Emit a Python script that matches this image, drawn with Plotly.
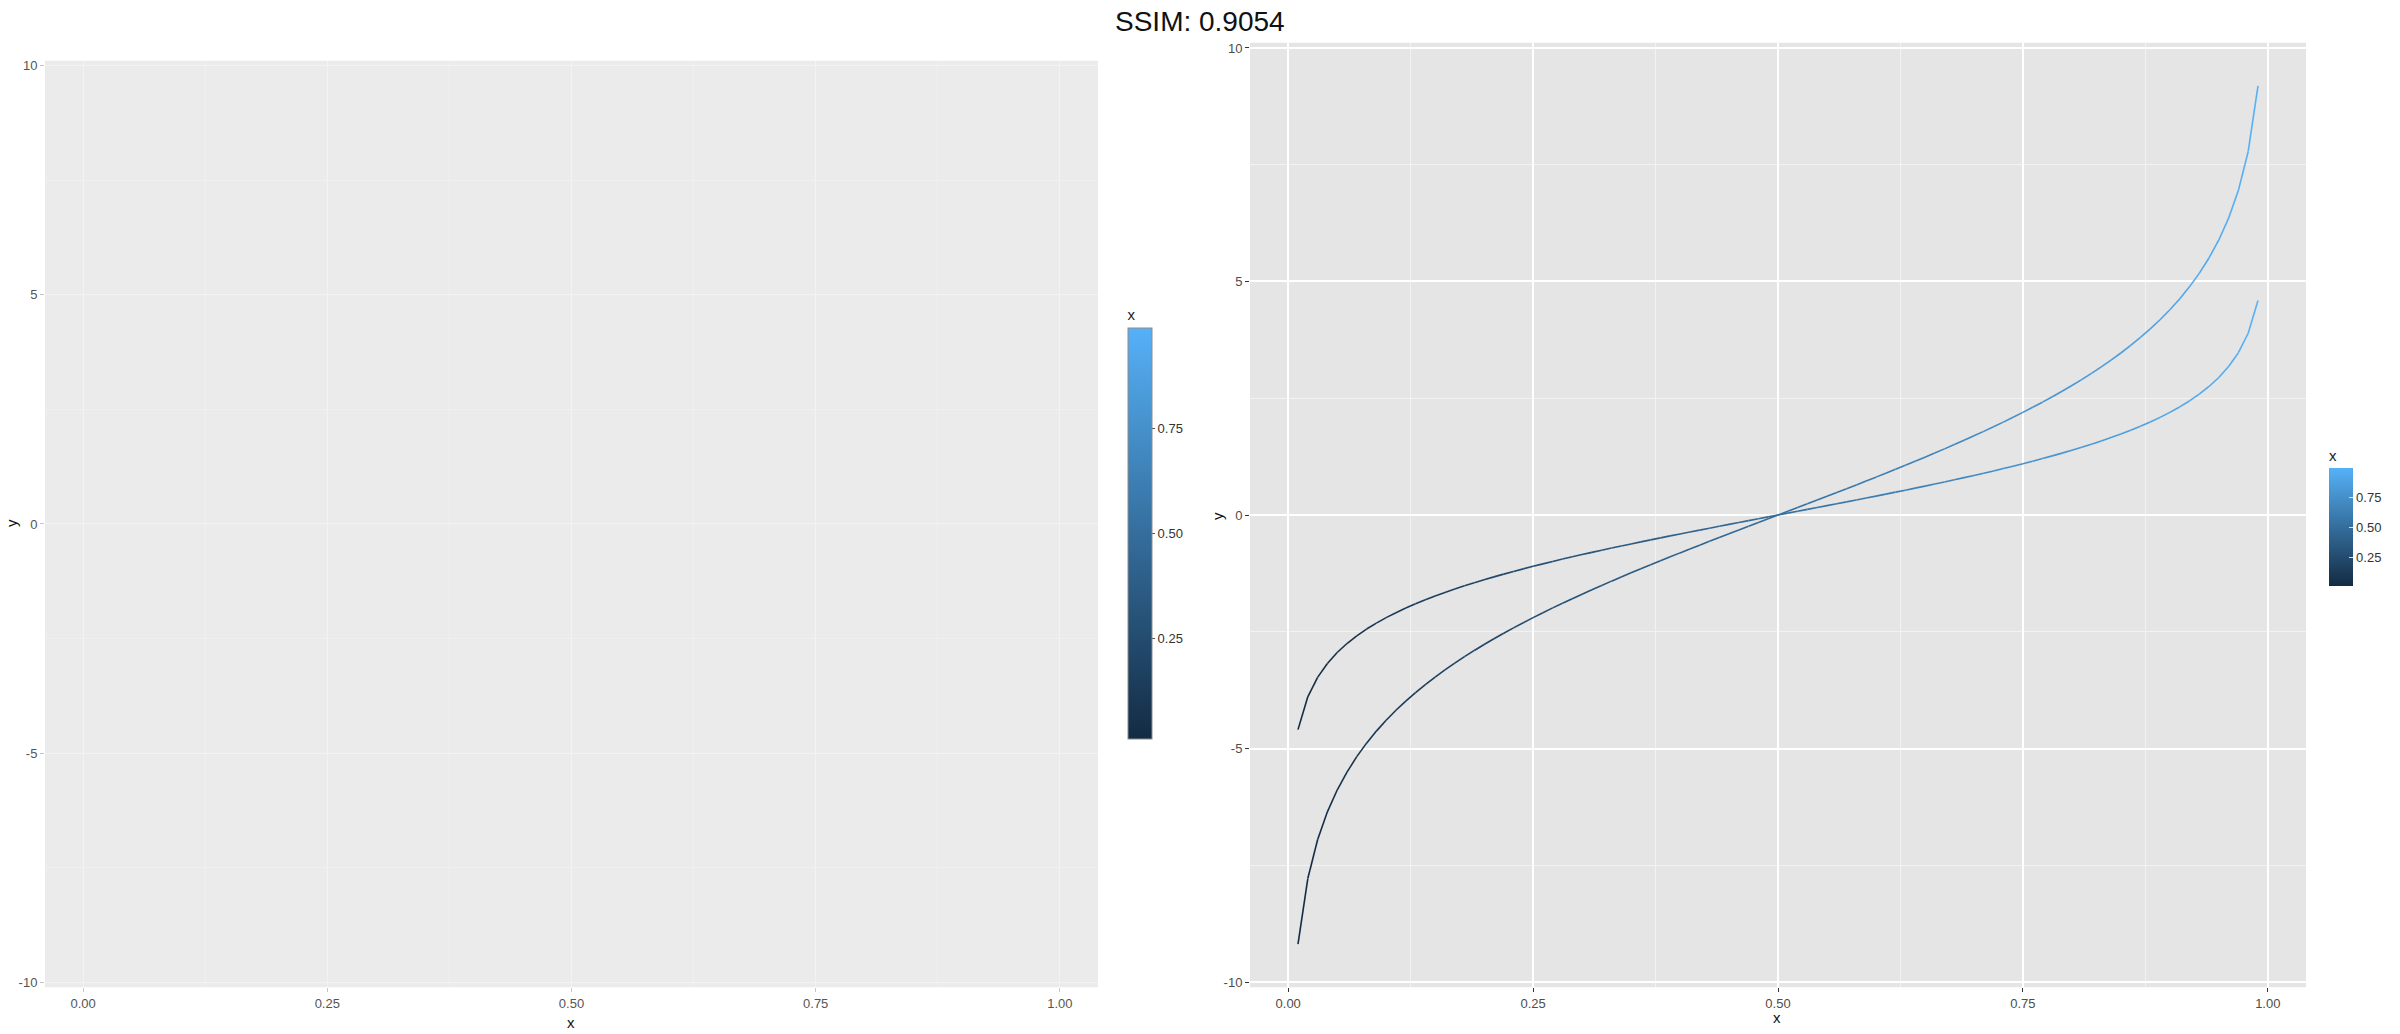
import plotly.graph_objects as go
from plotly.colors import sample_colorscale

# ---- data ----
x_vals = [0.01, 0.02, 0.03, 0.04, 0.05, 0.06, 0.07, 0.08, 0.09, 0.10,
          0.11, 0.12, 0.13, 0.14, 0.15, 0.16, 0.17, 0.18, 0.19, 0.20,
          0.21, 0.22, 0.23, 0.24, 0.25, 0.26, 0.27, 0.28, 0.29, 0.30,
          0.31, 0.32, 0.33, 0.34, 0.35, 0.36, 0.37, 0.38, 0.39, 0.40,
          0.41, 0.42, 0.43, 0.44, 0.45, 0.46, 0.47, 0.48, 0.49, 0.50,
          0.51, 0.52, 0.53, 0.54, 0.55, 0.56, 0.57, 0.58, 0.59, 0.60,
          0.61, 0.62, 0.63, 0.64, 0.65, 0.66, 0.67, 0.68, 0.69, 0.70,
          0.71, 0.72, 0.73, 0.74, 0.75, 0.76, 0.77, 0.78, 0.79, 0.80,
          0.81, 0.82, 0.83, 0.84, 0.85, 0.86, 0.87, 0.88, 0.89, 0.90,
          0.91, 0.92, 0.93, 0.94, 0.95, 0.96, 0.97, 0.98, 0.99]

y_flat = [-4.595, -3.892, -3.476, -3.178, -2.944, -2.752, -2.587, -2.442, -2.314, -2.197,
          -2.091, -1.992, -1.901, -1.815, -1.735, -1.658, -1.586, -1.516, -1.450, -1.386,
          -1.325, -1.266, -1.208, -1.153, -1.099, -1.046, -0.995, -0.944, -0.895, -0.847,
          -0.800, -0.754, -0.708, -0.663, -0.619, -0.575, -0.532, -0.490, -0.447, -0.405,
          -0.364, -0.323, -0.282, -0.241, -0.201, -0.160, -0.120, -0.080, -0.040, 0.000,
          0.040, 0.080, 0.120, 0.160, 0.201, 0.241, 0.282, 0.323, 0.364, 0.405,
          0.447, 0.490, 0.532, 0.575, 0.619, 0.663, 0.708, 0.754, 0.800, 0.847,
          0.895, 0.944, 0.995, 1.046, 1.099, 1.153, 1.208, 1.266, 1.325, 1.386,
          1.450, 1.516, 1.586, 1.658, 1.735, 1.815, 1.901, 1.992, 2.091, 2.197,
          2.314, 2.442, 2.587, 2.752, 2.944, 3.178, 3.476, 3.892, 4.595]

y_steep = [-9.190, -7.784, -6.952, -6.356, -5.889, -5.504, -5.174, -4.885, -4.627, -4.394,
           -4.181, -3.984, -3.802, -3.630, -3.469, -3.316, -3.171, -3.032, -2.900, -2.773,
           -2.650, -2.531, -2.416, -2.306, -2.197, -2.092, -1.989, -1.889, -1.791, -1.695,
           -1.600, -1.508, -1.416, -1.326, -1.238, -1.150, -1.064, -0.979, -0.895, -0.811,
           -0.728, -0.645, -0.564, -0.483, -0.401, -0.321, -0.240, -0.160, -0.080, 0.000,
           0.080, 0.160, 0.240, 0.321, 0.401, 0.483, 0.564, 0.645, 0.728, 0.811,
           0.895, 0.979, 1.064, 1.150, 1.238, 1.326, 1.416, 1.508, 1.600, 1.695,
           1.791, 1.889, 1.989, 2.092, 2.197, 2.306, 2.416, 2.531, 2.650, 2.773,
           2.900, 3.032, 3.171, 3.316, 3.469, 3.630, 3.802, 3.984, 4.181, 4.394,
           4.627, 4.885, 5.174, 5.504, 5.889, 6.356, 6.952, 7.784, 9.190]

x_ticks = [0.0, 0.25, 0.5, 0.75, 1.0]
x_tick_text = ["0.00", "0.25", "0.50", "0.75", "1.00"]
y_ticks = [-10, -5, 0, 5, 10]
y_tick_text = ["-10", "-5", "0", "5", "10"]
cbar_ticks = [0.25, 0.5, 0.75]
cbar_tick_text = ["0.25", "0.50", "0.75"]
title_text = "SSIM: 0.9054"

# ---- styling ----
W, H = 2400, 1034
FONT = "Liberation Sans"
cscale = [[0, "#132B43"], [1, "#56B1F7"]]
cmin, cmax = min(x_vals), max(x_vals)


def colour_at(v):
    t = (v - cmin) / (cmax - cmin)
    return sample_colorscale(cscale, [max(0, min(1, t))])[0]


def px_x(p):
    return p / W


def px_y(p):
    return 1 - p / H


fig = go.Figure()

# invisible trace so the (empty) left panel axes are drawn
fig.add_trace(go.Scatter(x=[0.5], y=[0], mode="markers", marker=dict(opacity=0, size=1),
                         xaxis="x", yaxis="y", showlegend=False, hoverinfo="skip"))

# gradient coloured lines on the right panel
for ys in (y_flat, y_steep):
    for i in range(len(x_vals) - 1):
        xm = (x_vals[i] + x_vals[i + 1]) / 2
        fig.add_trace(go.Scatter(
            x=x_vals[i:i + 2], y=ys[i:i + 2], mode="lines",
            line=dict(color=colour_at(xm), width=1.6),
            xaxis="x2", yaxis="y2", showlegend=False, hoverinfo="skip"))

# colour bars
fig.add_trace(go.Scatter(
    x=[0.5, 0.5], y=[0, 0], mode="markers", xaxis="x2", yaxis="y2",
    marker=dict(color=[cmin, cmax], colorscale=cscale, cmin=cmin, cmax=cmax,
                opacity=0, size=1, showscale=True,
                colorbar=dict(
                    x=px_x(1128), xanchor="left", xpad=0,
                    y=px_y(305), yanchor="top", ypad=0,
                    len=433, lenmode="pixels", thickness=24, thicknessmode="pixels",
                    outlinewidth=1, outlinecolor="#8c8c8c",
                    tickvals=cbar_ticks, ticktext=cbar_tick_text,
                    ticks="outside", ticklen=3, tickcolor="#555555",
                    tickfont=dict(family=FONT, size=13, color="#333333"),
                    title=dict(text="x", side="top",
                               font=dict(family=FONT, size=15, color="#222222")))),
    showlegend=False, hoverinfo="skip"))

fig.add_trace(go.Scatter(
    x=[0.5, 0.5], y=[0, 0], mode="markers", xaxis="x2", yaxis="y2",
    marker=dict(color=[cmin, cmax], colorscale=cscale, cmin=cmin, cmax=cmax,
                opacity=0, size=1, showscale=True,
                colorbar=dict(
                    x=px_x(2329), xanchor="left", xpad=0,
                    y=px_y(446), yanchor="top", ypad=0,
                    len=140, lenmode="pixels", thickness=24, thicknessmode="pixels",
                    outlinewidth=0,
                    tickvals=cbar_ticks, ticktext=cbar_tick_text,
                    ticks="inside", ticklen=4, tickcolor="#dddddd",
                    tickfont=dict(family=FONT, size=13, color="#333333"),
                    title=dict(text="x", side="top",
                               font=dict(family=FONT, size=15, color="#222222")))),
    showlegend=False, hoverinfo="skip"))

xr = [-0.039, 1.039]
yr = [-10.11, 10.11]

left_axis_common = dict(showline=False, zeroline=False, ticks="outside", ticklen=4,
                        tickcolor="#c8c8c8", gridcolor="#f3f3f3", gridwidth=1.2,
                        tickfont=dict(family=FONT, size=13, color="#555555"),
                        fixedrange=True)
right_axis_common = dict(showline=False, zeroline=False, ticks="outside", ticklen=4,
                         tickcolor="#333333", gridcolor="#ffffff", gridwidth=1.6,
                         tickfont=dict(family=FONT, size=13, color="#4d4d4d"),
                         fixedrange=True)

fig.update_layout(
    width=W, height=H,
    margin=dict(l=0, r=0, t=0, b=0),
    paper_bgcolor="#ffffff",
    plot_bgcolor="rgba(0,0,0,0)",
    showlegend=False,
    xaxis=dict(domain=[px_x(45), px_x(1098)], range=xr, anchor="y",
               tickvals=x_ticks, ticktext=x_tick_text,
               minor=dict(showgrid=True, dtick=0.125, tick0=0, gridcolor="#efefef", gridwidth=0.6),
               **left_axis_common),
    yaxis=dict(domain=[px_y(989), px_y(59)], range=yr, anchor="x",
               tickvals=y_ticks, ticktext=y_tick_text,
               minor=dict(showgrid=True, dtick=2.5, tick0=0, gridcolor="#efefef", gridwidth=0.6),
               **left_axis_common),
    xaxis2=dict(domain=[px_x(1250), px_x(2306)], range=xr, anchor="y2",
                tickvals=x_ticks, ticktext=x_tick_text,
                minor=dict(showgrid=True, dtick=0.125, tick0=0, gridcolor="#f2f2f2", gridwidth=0.8),
                **right_axis_common),
    yaxis2=dict(domain=[px_y(989), px_y(41)], range=yr, anchor="x2",
                tickvals=y_ticks, ticktext=y_tick_text,
                minor=dict(showgrid=True, dtick=2.5, tick0=0, gridcolor="#f2f2f2", gridwidth=0.8),
                **right_axis_common),
)

# panel backgrounds (left lighter than right)
fig.add_shape(type="rect", xref="x domain", yref="y domain", x0=0, x1=1, y0=0, y1=1,
              fillcolor="#ebebeb", line=dict(width=0), layer="below")
fig.add_shape(type="rect", xref="x2 domain", yref="y2 domain", x0=0, x1=1, y0=0, y1=1,
              fillcolor="#e5e5e5", line=dict(width=0), layer="below")

annos = [
    dict(text=title_text, x=px_x(1200), y=px_y(20), font=dict(family=FONT, size=28, color="#111111")),
    dict(text="x", x=px_x(571), y=px_y(1024), font=dict(family=FONT, size=15, color="#111111")),
    dict(text="x", x=px_x(1777), y=px_y(1019), font=dict(family=FONT, size=15, color="#111111")),
    dict(text="y", x=px_x(12), y=px_y(523), font=dict(family=FONT, size=15, color="#111111"), textangle=-90),
    dict(text="y", x=px_x(1217), y=px_y(516), font=dict(family=FONT, size=15, color="#111111"), textangle=-90),
]
for a in annos:
    fig.add_annotation(xref="paper", yref="paper", showarrow=False,
                       xanchor="center", yanchor="middle", **a)

fig.write_html("out.html",
               config={"displayModeBar": False},
               post_script="document.body.style.margin='0';document.body.style.overflow='hidden';")
